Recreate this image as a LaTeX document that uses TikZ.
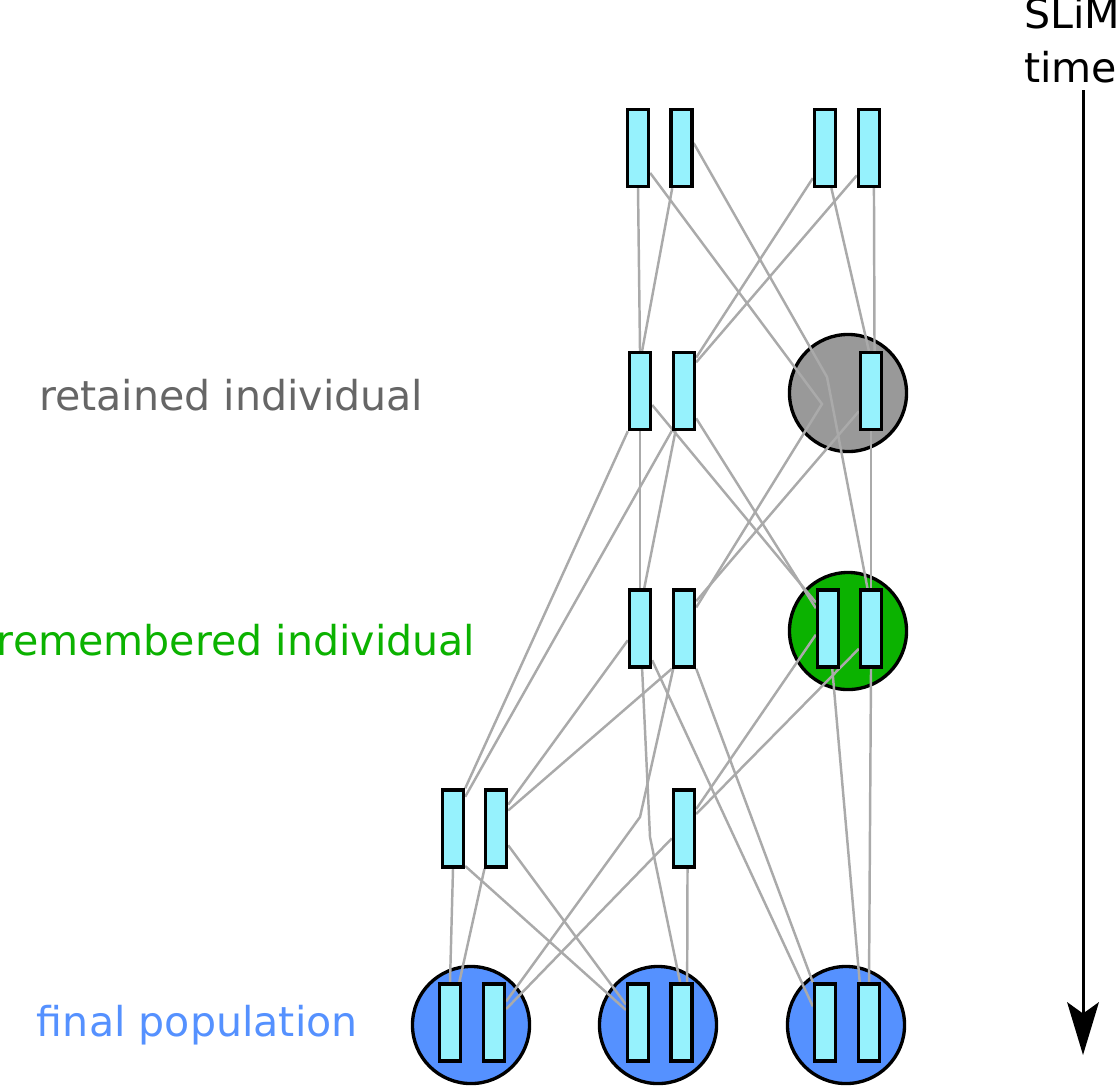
\documentclass[tikz,border=0pt]{standalone}
\usepackage{fontspec}
\setmainfont{DejaVu Sans}
\usetikzlibrary{backgrounds}
\usetikzlibrary{arrows.meta}
\definecolor{genomecol}{RGB}{150,242,253}
\definecolor{retcol}{RGB}{153,153,153}
\definecolor{rettext}{RGB}{102,102,102}
\definecolor{remcol}{RGB}{11,178,0}
\definecolor{fincol}{RGB}{85,145,255}
\definecolor{linkcol}{RGB}{170,170,170}
\pgfdeclarelayer{links}
\pgfsetlayers{background,links,main}

\begin{document}
\begin{tikzpicture}[x=0.01cm,y=-0.01cm,
  genome/.style={draw,line width=0.95pt,fill=genomecol,minimum width=0.21cm,minimum height=0.77cm,inner sep=0pt},
  indiv/.style={draw,circle,line width=0.95pt,minimum size=1.17cm,inner sep=0pt},
  link/.style={draw=linkcol,line width=0.7pt},
  lab/.style={anchor=base west,inner sep=0pt,outer sep=0pt,font=\fontsize{11.7}{14}\selectfont}]
\useasboundingbox (0,0) rectangle (1119,1087);

\node[genome] (a1) at (638,148) {};
\node[genome] (a2) at (681.5,148) {};
\node[genome] (a3) at (825,148) {};
\node[genome] (a4) at (869,148) {};
\node[genome] (b1) at (640,391) {};
\node[genome] (b2) at (684,391) {};
\node[genome] (g) at (871,391) {};
\node[genome] (c1) at (640,628.5) {};
\node[genome] (c2) at (684,628.5) {};
\node[genome] (d1) at (828,628.5) {};
\node[genome] (d2) at (871,628.5) {};
\node[genome] (e1) at (453,828.5) {};
\node[genome] (e2) at (496,828.5) {};
\node[genome] (e3) at (684,828.5) {};
\node[genome] (f1) at (450,1022.5) {};
\node[genome] (f2) at (494,1022.5) {};
\node[genome] (f3) at (638,1022.5) {};
\node[genome] (f4) at (681.5,1022.5) {};
\node[genome] (f5) at (825,1022.5) {};
\node[genome] (f6) at (869,1022.5) {};

\begin{scope}[on background layer]
\node[indiv,fill=retcol] (ret) at (848,393) {};
\node[indiv,fill=remcol] (rem) at (848,631) {};
\node[indiv,fill=fincol] (fin1) at (471,1025) {};
\node[indiv,fill=fincol] (fin2) at (658,1025) {};
\node[indiv,fill=fincol] (fin3) at (846,1025) {};
\end{scope}

\coordinate (p1) at (822,404);
\coordinate (p2) at (827,377);
\coordinate (p3) at (650,837);
\coordinate (p4) at (640,817);

\begin{pgfonlayer}{links}
\draw[link] (a1.south) -- (b1.north);
\draw[link] (a2.-103) -- (b1.87);
\draw[link] (a1.-64) -- (p1) -- (c2.60);
\draw[link] (a2.22) -- (p2) -- (d2.95);
\draw[link] (a3.-112) -- (b2.70);
\draw[link] (a4.-114) -- (b2.67);
\draw[link] (a3.-81) -- (g.93);
\draw[link] (a4.-83) -- (g.85);
\draw[link] (b1.south) -- (c1.north);
\draw[link] (b2.-102) -- (c1.84);
\draw[link] (b1.-49) -- (d1.115);
\draw[link] (b2.-66) -- (d1.121);
\draw[link] (g.-121) -- (c2.66);
\draw[link] (g.south) -- (d2.north);
\draw[link] (b1.south west) -- (e1.north east);
\draw[link] (b2.-107) -- (e1.69);
\draw[link] (c1.-136) -- (e2.63);
\draw[link] (c2.south west) -- (e2.56);
\draw[link] (c1.-87) -- (p3) -- (f4.92);
\draw[link] (c2.-105) -- (p4) -- (f2.60);
\draw[link] (e3.-141) -- (f2.48);
\draw[link] (e3.-85) -- (f4.82);
\draw[link] (d1.-153) -- (e3.58);
\draw[link] (d2.-121) -- (e3.50);
\draw[link] (e1.south) -- (f1.north);
\draw[link] (e2.-106) -- (f1.77);
\draw[link] (e1.-72) -- (f3.134);
\draw[link] (e2.-54) -- (f3.124);
\draw[link] (c1.-69) -- (f5.127);
\draw[link] (c2.south east) -- (f5.north west);
\draw[link] (d1.-84) -- (f6.103);
\draw[link] (d2.south) -- (f6.north);
\end{pgfonlayer}

\node[lab,text=rettext] (lret) at (39,410) {retained individual};
\node[lab,text=remcol] (lrem) at (-3,655) {remembered individual};
\node[lab,text=fincol] (lfin) at (37,1036) {final population};
\node[lab] (lslim) at (1024,28) {SLiM};
\node[lab] (ltime) at (1024,82) {time};

\coordinate (t0) at (1083,90);
\coordinate (t1) at (1083,1055);
\draw[line width=0.85pt,-{Stealth[length=15pt,width=9pt,inset=3.2pt]}] (t0) -- (t1);
\end{tikzpicture}
\end{document}
